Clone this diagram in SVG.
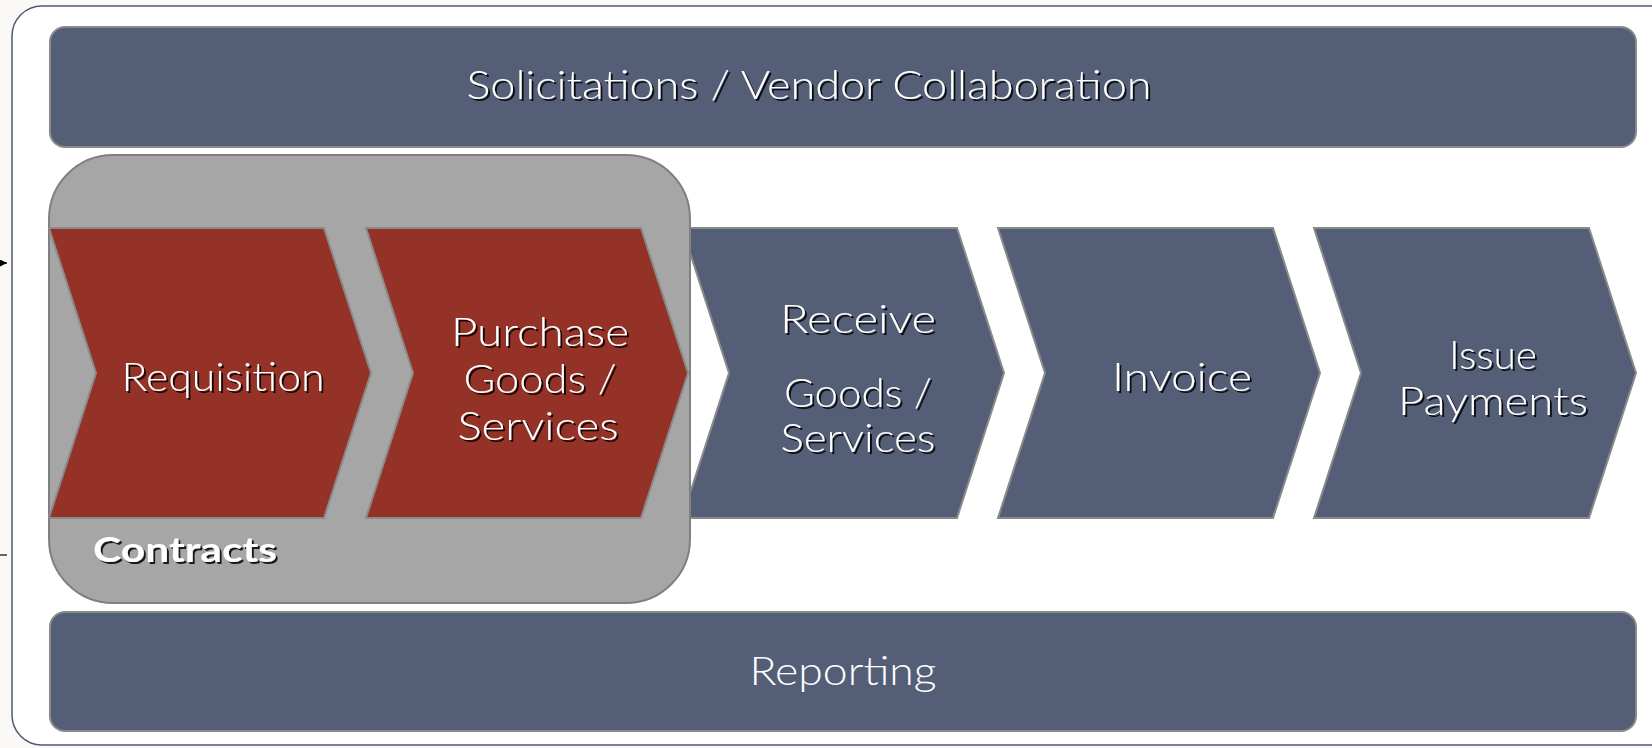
<svg xmlns="http://www.w3.org/2000/svg" width="1652" height="748" viewBox="0 0 1652 748">
<defs>
<style>
.bg{fill:#faf9f7}
.frame{fill:#ffffff;stroke:#4f5a75;stroke-width:1.5}
.bar{fill:#545f77;stroke:#8a8a8a;stroke-width:2}
.blue{fill:#545f77;stroke:#8a8a8a;stroke-width:2;stroke-linejoin:miter}
.red{fill:#943227;stroke:#8a8a8a;stroke-width:2;stroke-linejoin:miter}
.box{fill:#a6a6a6;stroke:#808080;stroke-width:2}
.t{font-family:"Lato","Liberation Sans",sans-serif;font-size:39px;font-weight:300;fill:#ffffff;text-anchor:middle}
.sh{filter:url(#shadow)}
.b{font-weight:bold;font-size:35px;text-anchor:start}
.conn{stroke:#000000;stroke-width:1.2;fill:none}
</style>
<filter id="shadow" x="-10%" y="-30%" width="120%" height="160%">
<feDropShadow dx="2" dy="2" stdDeviation="0.6" flood-color="#000000" flood-opacity="0.85"/>
</filter>
<marker id="arr" viewBox="0 0 10 10" refX="10" refY="5" markerWidth="7" markerHeight="7" markerUnits="userSpaceOnUse" orient="auto">
<path d="M0,0 L10,5 L0,10 z" fill="#000000"/>
</marker>
</defs>
<rect class="bg" x="0" y="0" width="1652" height="748"/>
<rect class="frame" x="12" y="6" width="1668" height="739" rx="30"/>
<g id="connectors">
<line class="conn" x1="-4" y1="263" x2="7" y2="263" marker-end="url(#arr)"/>
<line class="conn" x1="0" y1="555" x2="7" y2="555"/>
</g>
<g id="solicitations">
<rect class="bar" x="50" y="27" width="1586" height="120" rx="15"/>
<text class="t sh" x="809" y="99" textLength="685" lengthAdjust="spacingAndGlyphs">Solicitations / Vendor Collaboration</text>
</g>
<g id="receive">
<path class="blue" d="M682,228 L957,228 L1004,373 L957,518 L682,518 L729,373 Z"/>
</g>
<g id="contracts">
<rect class="box" x="49" y="155" width="641" height="448" rx="64"/>
<text class="t sh b" x="93" y="562" textLength="184" lengthAdjust="spacingAndGlyphs">Contracts</text>
</g>
<g id="requisition">
<path class="red" d="M49,228 L324,228 L371,373 L324,518 L49,518 L96,373 Z"/>
<text class="t sh" x="223" y="391" textLength="203" lengthAdjust="spacingAndGlyphs">Requisition</text>
</g>
<g id="purchase">
<path class="red" d="M366,228 L641,228 L688,373 L641,518 L366,518 L413,373 Z"/>
<text class="t sh" x="540" y="346" textLength="178" lengthAdjust="spacingAndGlyphs">Purchase</text>
<text class="t sh" x="540" y="393" textLength="153" lengthAdjust="spacingAndGlyphs">Goods /</text>
<text class="t sh" x="538" y="440" textLength="161" lengthAdjust="spacingAndGlyphs">Services</text>
</g>
<g id="receive-label">
<text class="t sh" x="858" y="333" textLength="156" lengthAdjust="spacingAndGlyphs">Receive</text>
<text class="t sh" x="858" y="407" textLength="148" lengthAdjust="spacingAndGlyphs">Goods /</text>
<text class="t sh" x="858" y="452" textLength="155" lengthAdjust="spacingAndGlyphs">Services</text>
</g>
<g id="invoice">
<path class="blue" d="M998,228 L1273,228 L1320,373 L1273,518 L998,518 L1045,373 Z"/>
<text class="t sh" x="1182" y="391" textLength="140" lengthAdjust="spacingAndGlyphs">Invoice</text>
</g>
<g id="payments">
<path class="blue" d="M1314,228 L1589,228 L1636,373 L1589,518 L1314,518 L1361,373 Z"/>
<text class="t sh" x="1493" y="369" textLength="88" lengthAdjust="spacingAndGlyphs">Issue</text>
<text class="t sh" x="1493" y="415" textLength="190" lengthAdjust="spacingAndGlyphs">Payments</text>
</g>
<g id="reporting">
<rect class="bar" x="50" y="612" width="1586" height="119" rx="15"/>
<text class="t" x="843" y="685" textLength="187" lengthAdjust="spacingAndGlyphs">Reporting</text>
</g>
</svg>
